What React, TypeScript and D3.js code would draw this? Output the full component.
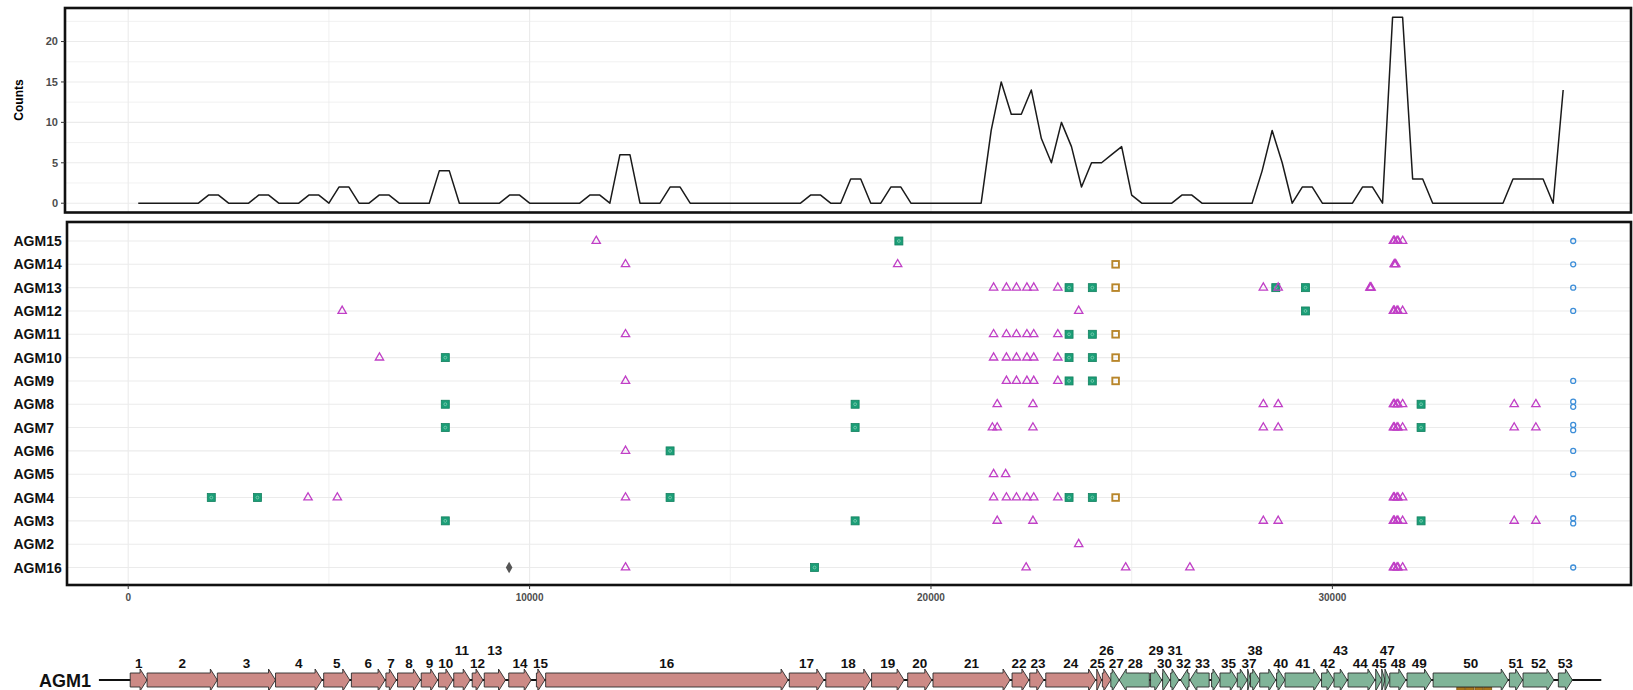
import React from "react";
import * as d3 from "d3";

// ---------- data ----------
const binSize = 250;
// variant counts per 250 bp window, windows ending at 250, 500, 750, ...
const counts = [
  0, 0, 0, 0, 0, 0, 0, 1, 1, 0,
  0, 0, 1, 1, 0, 0, 0, 1, 1, 0,
  2, 2, 0, 0, 1, 1, 0, 0, 0, 0,
  4, 4, 0, 0, 0, 0, 0, 1, 1, 0,
  0, 0, 0, 0, 0, 1, 1, 0, 6, 6,
  0, 0, 0, 2, 2, 0, 0, 0, 0, 0,
  0, 0, 0, 0, 0, 0, 0, 1, 1, 0,
  0, 3, 3, 0, 0, 2, 2, 0, 0, 0,
  0, 0, 0, 0, 0, 9, 15, 11, 11, 14,
  8, 5, 10, 7, 2, 5, 5, 6, 7, 1,
  0, 0, 0, 0, 1, 1, 0, 0, 0, 0,
  0, 0, 4, 9, 5, 0, 2, 2, 0, 0,
  0, 0, 2, 2, 0, 23, 23, 3, 3, 0,
  0, 0, 0, 0, 0, 0, 0, 3, 3, 3,
  3, 0, 14,
];
const countTicks = [0, 5, 10, 15, 20];
const positionTicks = [0, 10000, 20000, 30000];

const isolates = [
  "AGM15", "AGM14", "AGM13", "AGM12", "AGM11", "AGM10", "AGM9", "AGM8",
  "AGM7", "AGM6", "AGM5", "AGM4", "AGM3", "AGM2", "AGM16",
];

const cluster = [21560, 21880, 22130, 22390, 22560, 23160];
const hotspot = [31520, 31545, 31610, 31635, 31750];

// open triangles
const triangleSites: [string, number[]][] = [
  ["AGM15", [11660, ...hotspot]],
  ["AGM14", [12390, 19170, 31540, 31560, 31580]],
  ["AGM13", [...cluster, 28280, 28650, 30935, 30950, 30965]],
  ["AGM12", [5330, 23680, ...hotspot]],
  ["AGM11", [12390, ...cluster]],
  ["AGM10", [6260, ...cluster]],
  ["AGM9", [12390, 21880, 22130, 22390, 22560, 23160]],
  ["AGM8", [21650, 22540, 28280, 28650, ...hotspot, 34530, 35070]],
  ["AGM7", [21530, 21650, 22540, 28280, 28650, ...hotspot, 34530, 35070]],
  ["AGM6", [12390]],
  ["AGM5", [21560, 21860]],
  ["AGM4", [4480, 5210, 12390, ...cluster, ...hotspot]],
  ["AGM3", [21650, 22540, 28280, 28650, ...hotspot, 34530, 35070]],
  ["AGM2", [23680]],
  ["AGM16", [12390, 22370, 24850, 26450, ...hotspot]],
];

// filled squares
const squareSites: [string, number[]][] = [
  ["AGM15", [19200]],
  ["AGM13", [23440, 24020, 28590, 29330]],
  ["AGM12", [29330]],
  ["AGM11", [23440, 24020]],
  ["AGM10", [7900, 23440, 24020]],
  ["AGM9", [23440, 24020]],
  ["AGM8", [7900, 18110, 32210]],
  ["AGM7", [7900, 18110, 32210]],
  ["AGM6", [13500]],
  ["AGM4", [2070, 3220, 13500, 23440, 24020]],
  ["AGM3", [7900, 18110, 32210]],
  ["AGM16", [17100]],
];

// hollow squares
const hollowSquareSites: [string, number[]][] = [
  ["AGM14", [24600]],
  ["AGM13", [24600]],
  ["AGM11", [24600]],
  ["AGM10", [24600]],
  ["AGM9", [24600]],
  ["AGM4", [24600]],
];

// open circles (repeated positions are two calls at the same site)
const circleSites: [string, number[]][] = [
  ["AGM15", [36000]],
  ["AGM14", [36000]],
  ["AGM13", [36000]],
  ["AGM12", [36000]],
  ["AGM9", [36000]],
  ["AGM8", [36000, 36000]],
  ["AGM7", [36000, 36000]],
  ["AGM6", [36000]],
  ["AGM5", [36000]],
  ["AGM3", [36000, 36000]],
  ["AGM16", [36000]],
];

const diamondSites: [string, number[]][] = [["AGM16", [9490]]];

// reference genome AGM1: genes as [start, end, strand]
const genes: [number, number, number][] = [
  [50, 470, 1], [470, 2220, 1], [2220, 3670, 1], [3670, 4830, 1],
  [4870, 5520, 1], [5560, 6400, 1], [6420, 6680, 1], [6710, 7280, 1],
  [7300, 7710, 1], [7730, 8090, 1], [8110, 8520, 1], [8570, 8840, 1],
  [8870, 9400, 1], [9480, 10040, 1], [10170, 10380, 1], [10400, 16440, 1],
  [16470, 17330, 1], [17380, 18500, 1], [18520, 19330, 1], [19420, 20020, 1],
  [20050, 21970, 1], [22020, 22440, 1], [22460, 22810, 1], [22860, 24100, 1],
  [24130, 24250, 1], [24270, 24480, 1], [24480, 24690, 1], [24690, 25440, -1],
  [25470, 25750, 1], [25770, 25950, 1], [25970, 26180, 1], [26220, 26430, -1],
  [26450, 26930, -1], [26990, 27200, 1], [27200, 27630, 1], [27630, 27880, 1],
  [27890, 27960, 1], [27960, 28190, 1], [28190, 28590, 1], [28610, 28820, 1],
  [28820, 29710, 1], [29730, 30040, 1], [30040, 30370, 1], [30390, 31060, 1],
  [31080, 31230, 1], [31230, 31310, 1], [31310, 31430, 1], [31430, 31830, 1],
  [31860, 32470, 1], [32510, 34380, 1], [34410, 34740, 1], [34750, 35520, 1],
  [35630, 35980, 1],
];
const firstGroupSize = 26; // genes 1-26 form the first block
const genomeSpan: [number, number] = [-730, 36700];
const liftedLabels = [11, 13, 26, 29, 31, 38, 43, 47];
const hiddenLabels = [34, 36, 39, 46];
const markerBoxes = [33200, 33420, 33650, 33870];

// ---------- styling ----------
const FONT = "'Liberation Sans', Arial, Helvetica, sans-serif";
const GRID = "#ebebeb";
const AXIS_TEXT = "#4d4d4d";
const C_TRI = "#c03fc6";
const C_SQ = "#1b9e77";
const C_SQ_EDGE = "#13805f";
const C_HOLLOW = "#b8862b";
const C_CIRC = "#3d8ed8";
const C_DIAM = "#555555";
const C_PINK = "#cc8a86";
const C_GREEN = "#80b498";
const LABEL_SIZE = 13.5;

type Mark = { row: string; pos: number; offset: number };

function flatten(sets: [string, number[]][]): Mark[] {
  const out: Mark[] = [];
  for (const [row, list] of sets) {
    const groups = d3.group(list, (v) => v);
    for (const [pos, same] of groups) {
      same.forEach((_, i) => {
        out.push({ row, pos, offset: (i - (same.length - 1) / 2) * 5.2 });
      });
    }
  }
  return out;
}

function arrowPath(x1: number, x2: number, dir: number, yc: number) {
  const bh = 7;
  const hh = 11;
  const head = Math.min(7, Math.abs(x2 - x1));
  const p = d3.path();
  if (dir > 0) {
    const hb = x2 - head;
    p.moveTo(x1, yc - bh);
    p.lineTo(hb, yc - bh);
    p.lineTo(hb, yc - hh);
    p.lineTo(x2, yc);
    p.lineTo(hb, yc + hh);
    p.lineTo(hb, yc + bh);
    p.lineTo(x1, yc + bh);
  } else {
    const hb = x1 + head;
    p.moveTo(x2, yc - bh);
    p.lineTo(hb, yc - bh);
    p.lineTo(hb, yc - hh);
    p.lineTo(x1, yc);
    p.lineTo(hb, yc + hh);
    p.lineTo(hb, yc + bh);
    p.lineTo(x2, yc + bh);
  }
  p.closePath();
  return p.toString();
}

type Label = { id: number; x: number; w: number; tier: number };

// push neighbouring labels in one row apart until they no longer collide
function spread(items: Label[], gap: number) {
  items.sort((a, b) => a.x - b.x);
  for (let iter = 0; iter < 200; iter++) {
    let moved = false;
    for (let j = 1; j < items.length; j++) {
      const a = items[j - 1];
      const b = items[j];
      const need = (a.w + b.w) / 2 + gap - (b.x - a.x);
      if (need > 0.01) {
        a.x -= need / 2;
        b.x += need / 2;
        moved = true;
      }
    }
    if (!moved) break;
  }
}

export default function App() {
  const W = 1633;
  const H = 690;

  // shared genomic axis
  const x = d3.scaleLinear().domain([-1525, 37440]).range([67, 1631]);
  const gridX = d3.range(0, 35001, 5000);

  // top panel
  const topBox = { l: 65, r: 1631, t: 8, b: 212.5 };
  const yTop = d3.scaleLinear().domain([-1.15, 24.15]).range([topBox.b, topBox.t]);
  const gridYTop = d3.range(0, 22.6, 2.5);
  const countLine = d3
    .line<number>()
    .x((_, i) => x((i + 1) * binSize))
    .y((d) => yTop(d));

  // scatter panel
  const midBox = { l: 67, r: 1631, t: 222, b: 585 };
  const yRow = d3.scalePoint<string>().domain(isolates).range([241, 567.5]);

  const tri = flatten(triangleSites);
  const sq = flatten(squareSites);
  const hollow = flatten(hollowSquareSites);
  const circ = flatten(circleSites);
  const diam = flatten(diamondSites);

  const triPath = d3.symbol(d3.symbolTriangle, 30)()!;
  const diamPath = d3.symbol(d3.symbolDiamond, 38)()!;

  // gene track
  const yc = 680;
  const lifted = new Set(liftedLabels);
  const hidden = new Set(hiddenLabels);
  const labels: Label[] = genes
    .map(([s, e], i) => ({
      id: i + 1,
      x: x((s + e) / 2),
      w: String(i + 1).length * 0.556 * LABEL_SIZE,
      tier: lifted.has(i + 1) ? 1 : 0,
    }))
    .filter((l) => !hidden.has(l.id));
  const tier0 = labels.filter((l) => l.tier === 0);
  const tier1 = labels.filter((l) => l.tier === 1);
  spread(tier0, 4);
  spread(tier1, 4);

  return (
    <svg
      width={W}
      height={H}
      viewBox={`0 0 ${W} ${H}`}
      style={{ display: "block", position: "absolute", left: 0, top: 0, background: "#fff" }}
      fontFamily={FONT}
    >
      <style>{`body{margin:0;}`}</style>
      <rect x={0} y={0} width={W} height={H} fill="#fff" />

      {/* ---------- counts panel ---------- */}
      <g>
        {gridYTop.map((v, i) => (
          <line
            key={"gyt" + i}
            x1={topBox.l}
            x2={topBox.r}
            y1={yTop(v)}
            y2={yTop(v)}
            stroke={GRID}
            strokeWidth={i % 2 === 0 ? 1.1 : 0.7}
          />
        ))}
        {gridX.map((v, i) => (
          <line
            key={"gxt" + i}
            x1={x(v)}
            x2={x(v)}
            y1={topBox.t}
            y2={topBox.b}
            stroke={GRID}
            strokeWidth={i % 2 === 0 ? 1.1 : 0.7}
          />
        ))}
        <path d={countLine(counts)!} fill="none" stroke="#1a1a1a" strokeWidth={1.5} strokeLinejoin="round" />
        <rect
          x={topBox.l}
          y={topBox.t}
          width={topBox.r - topBox.l}
          height={topBox.b - topBox.t}
          fill="none"
          stroke="#111"
          strokeWidth={2.6}
        />
        {countTicks.map((v) => (
          <g key={"ct" + v}>
            <line x1={topBox.l - 4} x2={topBox.l} y1={yTop(v)} y2={yTop(v)} stroke="#333" strokeWidth={1} />
            <text
              x={topBox.l - 7}
              y={yTop(v)}
              dy="0.35em"
              textAnchor="end"
              fontSize={11}
              fontWeight="bold"
              fill={AXIS_TEXT}
            >
              {v}
            </text>
          </g>
        ))}
        <text
          transform={`translate(19,100) rotate(-90)`}
          textAnchor="middle"
          dy="0.35em"
          fontSize={12}
          fontWeight="bold"
          fill="#000"
        >
          Counts
        </text>
      </g>

      {/* ---------- variant panel ---------- */}
      <g>
        {isolates.map((r) => (
          <line
            key={"gr" + r}
            x1={midBox.l}
            x2={midBox.r}
            y1={yRow(r)}
            y2={yRow(r)}
            stroke={GRID}
            strokeWidth={1.1}
          />
        ))}
        {gridX.map((v, i) => (
          <line
            key={"gxm" + i}
            x1={x(v)}
            x2={x(v)}
            y1={midBox.t}
            y2={midBox.b}
            stroke={GRID}
            strokeWidth={i % 2 === 0 ? 1.1 : 0.7}
          />
        ))}

        {diam.map((m, i) => (
          <path key={"d" + i} d={diamPath} transform={`translate(${x(m.pos)},${yRow(m.row)! + m.offset})`} fill={C_DIAM} />
        ))}
        {sq.map((m, i) => {
          const cx = x(m.pos);
          const cy = yRow(m.row)! + m.offset;
          return (
            <g key={"s" + i}>
              <rect x={cx - 4} y={cy - 4} width={8} height={8} fill={C_SQ} stroke={C_SQ_EDGE} strokeWidth={0.8} />
              <circle cx={cx} cy={cy} r={1.4} fill="none" stroke="#8fd6bb" strokeWidth={0.7} />
            </g>
          );
        })}
        {hollow.map((m, i) => {
          const cx = x(m.pos);
          const cy = yRow(m.row)! + m.offset;
          return (
            <rect
              key={"h" + i}
              x={cx - 3.3}
              y={cy - 3.3}
              width={6.6}
              height={6.6}
              fill="none"
              stroke={C_HOLLOW}
              strokeWidth={1.9}
            />
          );
        })}
        {tri.map((m, i) => (
          <path
            key={"t" + i}
            d={triPath}
            transform={`translate(${x(m.pos)},${yRow(m.row)! + m.offset})`}
            fill="none"
            stroke={C_TRI}
            strokeWidth={1.3}
          />
        ))}
        {circ.map((m, i) => (
          <circle
            key={"c" + i}
            cx={x(m.pos)}
            cy={yRow(m.row)! + m.offset}
            r={2.5}
            fill="none"
            stroke={C_CIRC}
            strokeWidth={1.3}
          />
        ))}

        <rect
          x={midBox.l}
          y={midBox.t}
          width={midBox.r - midBox.l}
          height={midBox.b - midBox.t}
          fill="none"
          stroke="#111"
          strokeWidth={2.6}
        />
        {isolates.map((r) => (
          <text
            key={"lab" + r}
            x={13.5}
            y={yRow(r)}
            dy="0.36em"
            fontSize={14}
            fontWeight="bold"
            fill="#111"
          >
            {r}
          </text>
        ))}
        {positionTicks.map((v) => (
          <g key={"pt" + v}>
            <line x1={x(v)} x2={x(v)} y1={midBox.b} y2={midBox.b + 4} stroke="#333" strokeWidth={1} />
            <text
              x={x(v)}
              y={midBox.b + 16}
              textAnchor="middle"
              fontSize={10}
              fontWeight="bold"
              fill={AXIS_TEXT}
            >
              {v}
            </text>
          </g>
        ))}
      </g>

      {/* ---------- gene track ---------- */}
      <g>
        <text x={91} y={687} textAnchor="end" fontSize={18} fontWeight="bold" fill="#111">
          AGM1
        </text>
        <line x1={x(genomeSpan[0])} x2={x(genomeSpan[1])} y1={yc} y2={yc} stroke="#111" strokeWidth={2} />
        {markerBoxes.map((b, i) => (
          <rect
            key={"mb" + i}
            x={x(b) - 4}
            y={687}
            width={8}
            height={8}
            fill="#a8741c"
            stroke="#7a5410"
            strokeWidth={0.8}
          />
        ))}
        {genes.map(([s, e, dir], i) => (
          <path
            key={"g" + i}
            d={arrowPath(x(s), x(e), dir, yc)}
            fill={i < firstGroupSize ? C_PINK : C_GREEN}
            stroke="#2b2b2b"
            strokeWidth={0.9}
            strokeLinejoin="miter"
          />
        ))}
        {labels.map((l) => (
          <text
            key={"gl" + l.id}
            x={l.x}
            y={l.tier === 1 ? 655 : 668}
            textAnchor="middle"
            fontSize={LABEL_SIZE}
            fontWeight="bold"
            fill="#111"
          >
            {l.id}
          </text>
        ))}
      </g>
    </svg>
  );
}
